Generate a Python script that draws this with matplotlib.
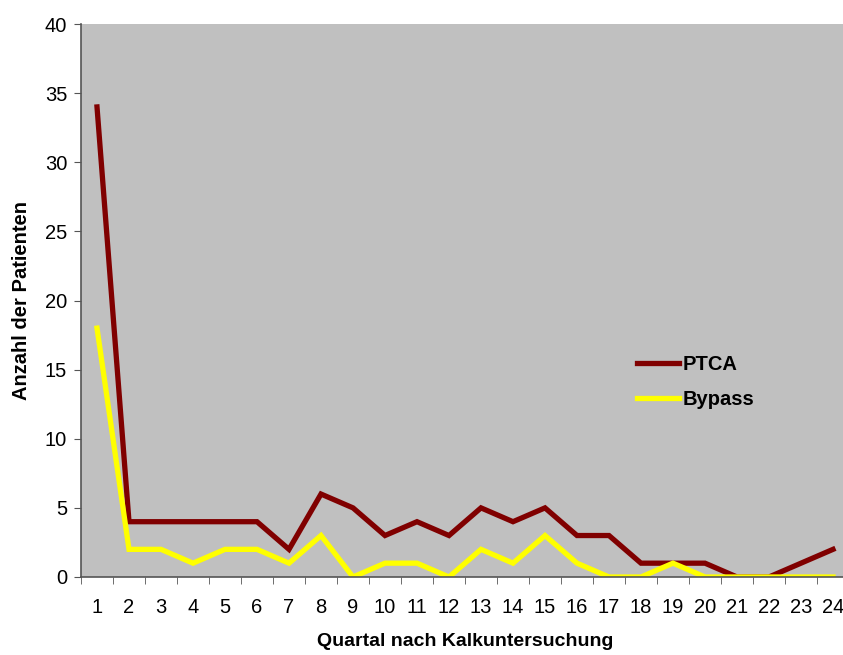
import numpy as np
import matplotlib.pyplot as plt
from matplotlib.ticker import FixedLocator

plt.rcParams["font.family"] = ["Liberation Sans", "DejaVu Sans"]

quartal = list(range(1, 25))
ptca = [34, 4, 4, 4, 4, 4, 2, 6, 5, 3, 4, 3, 5, 4, 5, 3, 3, 1, 1, 1, 0, 0, 1, 2]
bypass = [18, 2, 2, 1, 2, 2, 1, 3, 0, 1, 1, 0, 2, 1, 3, 1, 0, 0, 1, 0, 0, 0, 0, 0]

fig = plt.figure(figsize=(8.43, 6.55), dpi=100)
ax = fig.add_axes([81 / 843, 78 / 655, 768 / 843, 553 / 655])
ax.set_facecolor("#C0C0C0")

ax.plot(quartal, ptca, color="#800000", lw=3.8, label="PTCA", solid_joinstyle="miter")
ax.plot(quartal, bypass, color="#FFFF00", lw=3.8, label="Bypass", solid_joinstyle="miter")

ax.set_xlim(0.5, 24.5)
ax.set_ylim(0, 40)
ax.set_yticks(range(0, 41, 5))
ax.set_xticks(quartal)
ax.xaxis.set_minor_locator(FixedLocator(np.arange(0.5, 25, 1)))
ax.tick_params(axis="x", which="major", length=0, pad=15, labelsize=14.5)
ax.tick_params(axis="x", which="minor", length=5, color="#555555")
ax.tick_params(axis="y", length=5, color="#555555", labelsize=14.5, pad=5)

for s in ["top", "right"]:
    ax.spines[s].set_visible(False)
for s in ["left", "bottom"]:
    ax.spines[s].set_color("#555555")
    ax.spines[s].set_linewidth(1.2)

ax.set_xlabel("Quartal nach Kalkuntersuchung", fontsize=14, fontweight="bold", labelpad=12)
ax.set_ylabel("Anzahl der Patienten", fontsize=14.5, fontweight="bold", labelpad=10)

ax.legend(loc="center left", bbox_to_anchor=(0.70, 0.352), frameon=False,
          prop={"weight": "bold", "size": 14.5}, handlelength=2.1,
          handletextpad=0.2, labelspacing=0.8)

fig.savefig("out.png", dpi=100)
